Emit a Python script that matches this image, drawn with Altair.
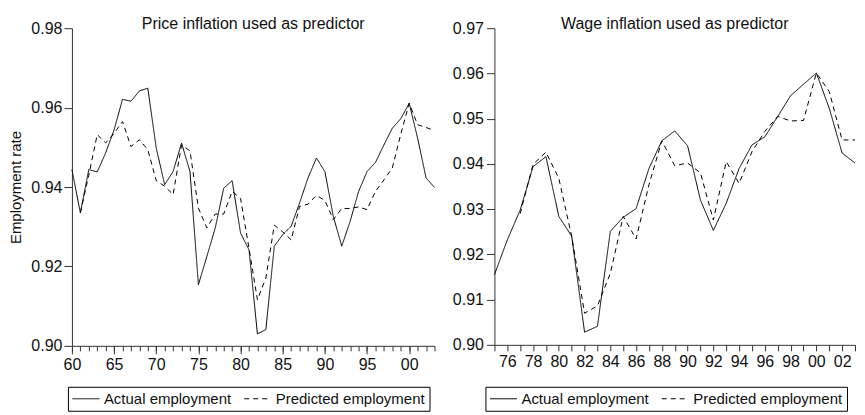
import altair as alt
import pandas as pd

FONT = "Liberation Sans"

# ---- Left panel: price inflation used as predictor ----
left_years_actual = list(range(1960, 2004))
left_actual = [0.9444, 0.9335, 0.9444, 0.9438, 0.9486, 0.9544, 0.9621, 0.9616, 0.9642, 0.9649,
               0.9498, 0.9406, 0.9439, 0.9511, 0.9439, 0.9154, 0.9225, 0.9297, 0.9397, 0.9416,
               0.9284, 0.9242, 0.9030, 0.9041, 0.9251, 0.9280, 0.9301, 0.9360, 0.9423, 0.9473,
               0.9439, 0.9326, 0.9251, 0.9314, 0.9389, 0.9439, 0.9462, 0.9506, 0.9548, 0.9572,
               0.9611, 0.9523, 0.9423, 0.9399]
left_years_pred = list(range(1961, 2004))
left_pred = [0.9335, 0.9430, 0.9532, 0.9511, 0.9535, 0.9565, 0.9502, 0.9519, 0.9494,
             0.9416, 0.9402, 0.9381, 0.9506, 0.9491, 0.9347, 0.9297, 0.9332, 0.9332, 0.9389,
             0.9371, 0.9246, 0.9116, 0.9171, 0.9304, 0.9287, 0.9267, 0.9351, 0.9357, 0.9379,
             0.9366, 0.9318, 0.9346, 0.9346, 0.9350, 0.9343, 0.9389, 0.9418, 0.9448, 0.9533,
             0.9611, 0.9557, 0.9550, 0.9542]

# ---- Right panel: wage inflation used as predictor ----
right_years_actual = list(range(1975, 2004))
right_actual = [0.9155, 0.9232, 0.9298, 0.9394, 0.9416, 0.9284, 0.9240, 0.9028, 0.9041, 0.9251,
                0.9282, 0.9301, 0.9390, 0.9451, 0.9473, 0.9440, 0.9320, 0.9253, 0.9313, 0.9390,
                0.9442, 0.9460, 0.9505, 0.9551, 0.9576, 0.9601, 0.9523, 0.9424, 0.9402]
right_years_pred = list(range(1977, 2004))
right_pred = [0.9290, 0.9399, 0.9426, 0.9368, 0.9240, 0.9070, 0.9086, 0.9158, 0.9284, 0.9234,
              0.9354, 0.9451, 0.9396, 0.9402, 0.9380, 0.9276, 0.9405, 0.9357, 0.9427, 0.9472,
              0.9505, 0.9495, 0.9496, 0.9601, 0.9560, 0.9453, 0.9453]

series_names = ["Actual employment", "Predicted employment"]
left_titles = "Price inflation used as predictor"
right_titles = "Wage inflation used as predictor"
y_label = "Employment rate"

left_y_ticks = [0.90, 0.92, 0.94, 0.96, 0.98]
right_y_ticks = [0.90, 0.91, 0.92, 0.93, 0.94, 0.95, 0.96, 0.97]
left_x_major = [1960, 1965, 1970, 1975, 1980, 1985, 1990, 1995, 2000]
left_x_minor = list(range(1960, 2004))
right_x_ticks = list(range(1975, 2004))


def make_df(ya, va, yp, vp):
    a = pd.DataFrame({"year": ya, "value": va, "series": series_names[0]})
    p = pd.DataFrame({"year": yp, "value": vp, "series": series_names[1]})
    return pd.concat([a, p], ignore_index=True)


df_left = make_df(left_years_actual, left_actual, left_years_pred, left_pred)
df_right = make_df(right_years_actual, right_actual, right_years_pred, right_pred)

two_digit = "slice(toString(datum.value), 2)"


def legend(lx, ly):
    return alt.Legend(
        title=None, orient="none", legendX=lx, legendY=ly, direction="horizontal",
        strokeColor="black", fillColor="white", padding=4, symbolType="stroke",
        symbolSize=729, symbolStrokeWidth=1, symbolStrokeColor="black",
        labelFontSize=15, labelFont=FONT, labelColor="#111", columnPadding=12,
        labelOffset=4, cornerRadius=0, clipHeight=16,
    )


dash_scale = alt.Scale(domain=series_names, range=[[1, 0], [5, 4]])

left_y = alt.Y("value:Q", scale=alt.Scale(domain=[0.90, 0.98], nice=False, zero=False),
               axis=alt.Axis(values=left_y_ticks, format=".2f", tickSize=8, title=y_label,
                             titleFontSize=15, titleFontWeight="normal", titleFont=FONT,
                             titleColor="#111", titlePadding=7, labelPadding=2,
                             labelFlush=False))

# Left panel
left_lines = alt.Chart(df_left).mark_line(color="black", strokeWidth=1).encode(
    x=alt.X("year:Q", scale=alt.Scale(domain=[1960, 2003], nice=False, zero=False),
            axis=alt.Axis(values=left_x_major, labelExpr=two_digit, tickSize=8,
                          labelOverlap=False, labelFlush=False, title=None,
                          orient="bottom")),
    y=left_y,
    strokeDash=alt.StrokeDash("series:N", scale=dash_scale, legend=legend(-4, 359)),
    detail="series:N",
)
left_minor = alt.Chart(df_left).mark_line(opacity=0).encode(
    x=alt.X("year:Q", scale=alt.Scale(domain=[1960, 2003], nice=False, zero=False),
            axis=alt.Axis(values=left_x_minor, labels=False, tickSize=5, domain=False,
                          title=None, orient="bottom")),
    y=left_y,
    detail="series:N",
)
left = alt.layer(left_lines, left_minor).resolve_axis(x="independent").properties(
    width=363, height=318,
    title=alt.TitleParams(left_titles, fontSize=16, fontWeight="normal", font=FONT,
                          color="#111", offset=-12),
)

# Right panel
right = alt.Chart(df_right).mark_line(color="black", strokeWidth=1).encode(
    x=alt.X("year:Q", scale=alt.Scale(domain=[1975, 2003], nice=False, zero=False),
            axis=alt.Axis(values=right_x_ticks,
                          labelExpr="datum.value % 2 == 0 ? " + two_digit + " : ''",
                          tickSize=6, labelOverlap=False, labelFlush=False, title=None)),
    y=alt.Y("value:Q", scale=alt.Scale(domain=[0.90, 0.97], nice=False, zero=False),
            axis=alt.Axis(values=right_y_ticks, format=".2f", tickSize=8, title=None,
                          labelPadding=3, labelFlush=False)),
    strokeDash=alt.StrokeDash("series:N", scale=dash_scale, legend=legend(-9, 359)),
    detail="series:N",
).properties(
    width=361, height=317,
    title=alt.TitleParams(right_titles, fontSize=16, fontWeight="normal", font=FONT,
                          color="#111", offset=-12),
)

chart = alt.hconcat(left, right, spacing=15).resolve_legend(
    strokeDash="independent"
).resolve_scale(strokeDash="independent").properties(
    padding={"left": 0, "top": 8, "right": 0, "bottom": 0}
).configure_view(stroke=None).configure_axis(
    grid=False, domainColor="#333", tickColor="#333", labelColor="#111",
    labelFont=FONT, labelFontSize=16, labelPadding=3, domainWidth=1, tickWidth=1,
)

chart.save("out.html", embed_options={"renderer": "svg", "actions": False})
